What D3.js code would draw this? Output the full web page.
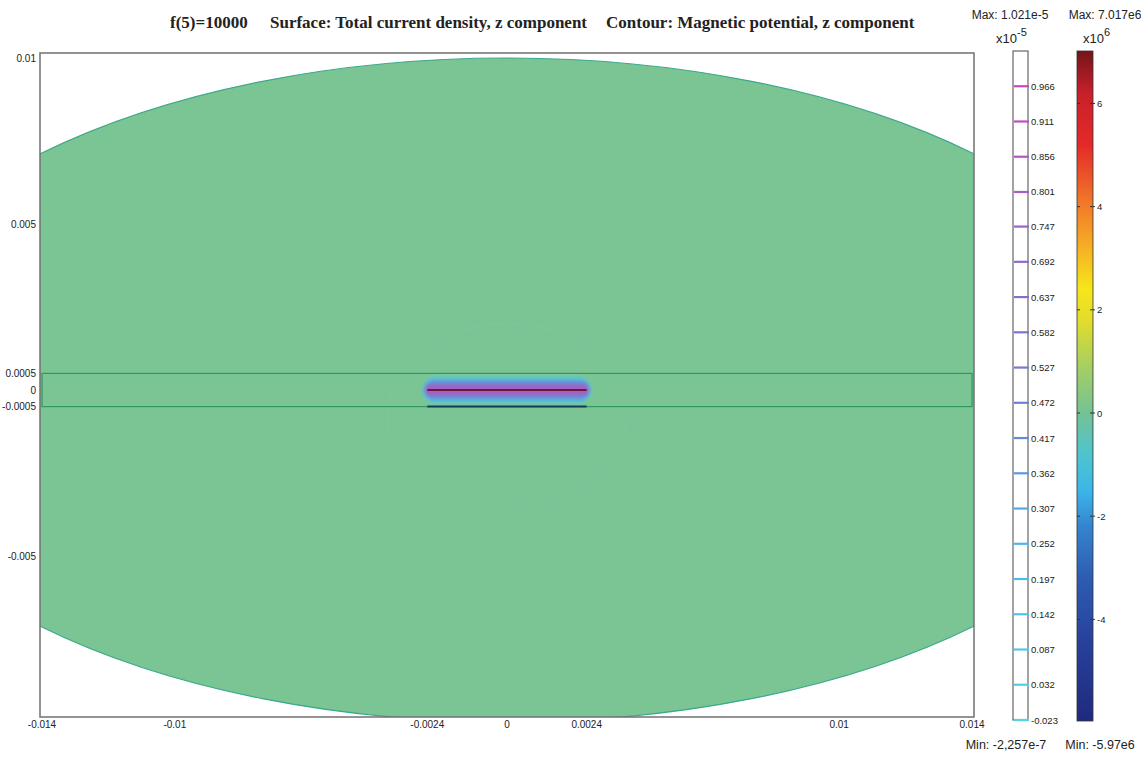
<!DOCTYPE html>
<html><head><meta charset="utf-8">
<script src="https://cdn.jsdelivr.net/npm/d3@7"></script>
<style>
html,body{margin:0;padding:0;background:#fff;}
svg{display:block;}
</style></head>
<body>
<svg id="chart" width="1141" height="758"></svg>
<script>
// ---------------- data ----------------
const titleParts = ["f(5)=10000", "Surface: Total current density, z component", "Contour: Magnetic potential, z component"];
const xTicks = [-0.014, -0.01, -0.0024, 0, 0.0024, 0.01, 0.014];
const xTickLabels = ["-0.014", "-0.01", "-0.0024", "0", "0.0024", "0.01", "0.014"];
const yTicks = [0.01, 0.005, 0.0005, 0, -0.0005, -0.005];
const yTickLabels = ["0.01", "0.005", "0.0005", "0", "-0.0005", "-0.005"];
// geometry (m)
const airEllipse = {rx: 0.02, ry: 0.01};
const substrate = {x0: -0.014, x1: 0.014, y0: -0.0005, y1: 0.0005};
const conductor = {x0: -0.0024, x1: 0.0024, y: 0, yBottom: -0.0005};
// contour levels (x1e-5)
const contourLevels = [0.966, 0.911, 0.856, 0.801, 0.747, 0.692, 0.637, 0.582, 0.527, 0.472, 0.417, 0.362, 0.307, 0.252, 0.197, 0.142, 0.087, 0.032, -0.023];
const contourMin = -0.023, contourMax = 1.021;
// halo around conductor: level and half-thickness (m)
const haloLevels = [0.032, 0.142, 0.252, 0.362, 0.472, 0.582, 0.692, 0.801, 0.911];
const haloHalf   = [0.00042, 0.00038, 0.00034, 0.0003, 0.00026, 0.00022, 0.00018, 0.00014, 0.0001];
// faint outer contour
const faintContours = [{cx: 0, cy: -0.0008, rx: 0.0036, ry: 0.0028}];
// surface colour bar (x1e6)
const surfTicks = [6, 4, 2, 0, -2, -4];
const surfMin = -5.97, surfMax = 7.017;
const surfStops = [
  [-5.97, "#1f2a7e"], [-4.5, "#27409a"], [-3.2, "#2d5cb2"], [-2.2, "#3584d0"],
  [-1.5, "#3cb6e8"], [-0.8, "#4fc4cf"], [0, "#74c293"], [0.9, "#a6cf63"],
  [1.8, "#e2dd2a"], [2.4, "#f6e61a"], [3.2, "#f6b024"], [4.2, "#f0702a"],
  [5.2, "#e42a28"], [6.2, "#c8202a"], [7.017, "#741418"]
];
const maxLabels = ["Max: 1.021e-5", "Max: 7.017e6"];
const minLabels = ["Min: -2,257e-7", "Min: -5.97e6"];
const expLabels = [["x10", "-5"], ["x10", "6"]];

// ---------------- drawing ----------------
const svg = d3.select("#chart");
const frame = {l: 40, r: 974, t: 53, b: 717};
const x = d3.scaleLinear().domain([-0.014, 0.014]).range([42, 972]);
const y = d3.scaleLinear().domain([-0.01, 0.01]).range([722, 58]);
const sans = "Liberation Sans, Arial, sans-serif";

// title
const titleX = [170, 270, 606];
svg.selectAll("text.title").data(titleParts).join("text")
  .attr("class", "title").attr("x", (d, i) => titleX[i]).attr("y", 28)
  .attr("font-family", "Liberation Serif, Times New Roman, serif")
  .attr("font-weight", "bold").attr("font-size", 17).attr("fill", "#222")
  .text(d => d);

const defs = svg.append("defs");
defs.append("clipPath").attr("id", "fclip").append("rect")
  .attr("x", frame.l).attr("y", frame.t).attr("width", frame.r - frame.l).attr("height", frame.b - frame.t);
defs.append("filter").attr("id", "blur").append("feGaussianBlur").attr("stdDeviation", 1.8);

// plot area
const g = svg.append("g").attr("clip-path", "url(#fclip)");
const cx0 = x(0), cy0 = y(0);
g.append("ellipse").attr("cx", cx0).attr("cy", cy0)
  .attr("rx", x(airEllipse.rx) - x(0)).attr("ry", y(0) - y(airEllipse.ry))
  .attr("fill", "#7bc594").attr("stroke", "#3aa889").attr("stroke-width", 1.2);

// faint contours
g.selectAll("ellipse.faint").data(faintContours).join("ellipse")
  .attr("class", "faint").attr("cx", d => x(d.cx)).attr("cy", d => y(d.cy))
  .attr("rx", d => x(d.rx) - x(0)).attr("ry", d => y(0) - y(d.ry))
  .attr("fill", "none").attr("stroke", "#86c9b0").attr("stroke-width", 1).attr("opacity", 0.3);

// substrate rectangle
g.append("rect").attr("x", x(substrate.x0)).attr("y", y(substrate.y1))
  .attr("width", x(substrate.x1) - x(substrate.x0)).attr("height", y(substrate.y0) - y(substrate.y1))
  .attr("fill", "none").attr("stroke", "#2e9a5c").attr("stroke-width", 1.2);

// contour colour
const cColor = d3.scaleLinear()
  .domain([-0.023, 0.25, 0.45, 0.65, 0.85, 1.0])
  .range(["#54d2e6", "#52b4e6", "#6a82d8", "#8a6cc8", "#b058c0", "#c846b8"]);

// halo
const halo = g.append("g").attr("filter", "url(#blur)");
halo.selectAll("rect").data(haloLevels).join("rect")
  .attr("x", (d, i) => x(conductor.x0) - (x(haloHalf[i]) - x(0)) * 0.35)
  .attr("width", (d, i) => x(conductor.x1) - x(conductor.x0) + 2 * (x(haloHalf[i]) - x(0)) * 0.35)
  .attr("y", (d, i) => y(conductor.y + haloHalf[i]))
  .attr("height", (d, i) => 2 * (x(haloHalf[i]) - x(0)))
  .attr("rx", (d, i) => (x(haloHalf[i]) - x(0)))
  .attr("fill", d => cColor(d)).attr("opacity", 0.5);

// conductor line and bottom electrode
g.append("line").attr("x1", x(conductor.x0)).attr("x2", x(conductor.x1))
  .attr("y1", y(conductor.y)).attr("y2", y(conductor.y))
  .attr("stroke", "#6a1840").attr("stroke-width", 2);
g.append("line").attr("x1", x(conductor.x0)).attr("x2", x(conductor.x1))
  .attr("y1", y(conductor.yBottom)).attr("y2", y(conductor.yBottom))
  .attr("stroke", "#17395a").attr("stroke-width", 2);

// frame
svg.append("rect").attr("x", frame.l).attr("y", frame.t)
  .attr("width", frame.r - frame.l).attr("height", frame.b - frame.t)
  .attr("fill", "none").attr("stroke", "#707070").attr("stroke-width", 1.5);

// axis labels
svg.selectAll("text.xt").data(xTicks).join("text").attr("class", "xt")
  .attr("x", d => x(d)).attr("y", 728).attr("text-anchor", "middle")
  .attr("font-family", sans).attr("font-size", 10).attr("fill", "#222")
  .text((d, i) => xTickLabels[i]);
svg.selectAll("text.yt").data(yTicks).join("text").attr("class", "yt")
  .attr("x", 36).attr("y", d => y(d) + 3.5).attr("text-anchor", "end")
  .attr("font-family", sans).attr("font-size", 10).attr("fill", "#222")
  .text((d, i) => yTickLabels[i]);

// contour legend bar
const cb = {x0: 1013, x1: 1028};
const cy = d3.scaleLinear().domain([contourMin, contourMax]).range([720, 51]);
svg.append("rect").attr("x", cb.x0).attr("y", cy(contourMax)).attr("width", cb.x1 - cb.x0)
  .attr("height", cy(contourMin) - cy(contourMax)).attr("fill", "#fff")
  .attr("stroke", "#666").attr("stroke-width", 1.2);
svg.selectAll("line.cl").data(contourLevels).join("line").attr("class", "cl")
  .attr("x1", cb.x0 + 1).attr("x2", cb.x1 + 1).attr("y1", d => cy(d)).attr("y2", d => cy(d))
  .attr("stroke", d => cColor(d)).attr("stroke-width", 2.2);
svg.selectAll("text.cl").data(contourLevels).join("text").attr("class", "cl")
  .attr("x", cb.x1 + 3).attr("y", d => cy(d) + 3.5)
  .attr("font-family", sans).attr("font-size", 9.5).attr("fill", "#222")
  .text(d => d.toFixed(3));

// surface colour bar
const sb = {x0: 1077, x1: 1093};
const sy = d3.scaleLinear().domain([surfMin, surfMax]).range([721, 51]);
const grad = defs.append("linearGradient").attr("id", "sgrad")
  .attr("x1", 0).attr("y1", 1).attr("x2", 0).attr("y2", 0);
grad.selectAll("stop").data(surfStops).join("stop")
  .attr("offset", d => (d[0] - surfMin) / (surfMax - surfMin))
  .attr("stop-color", d => d[1]);
svg.append("rect").attr("x", sb.x0).attr("y", sy(surfMax)).attr("width", sb.x1 - sb.x0)
  .attr("height", sy(surfMin) - sy(surfMax)).attr("fill", "url(#sgrad)")
  .attr("stroke", "#333").attr("stroke-width", 0.8);
const st = svg.selectAll("g.st").data(surfTicks).join("g").attr("class", "st")
  .attr("transform", d => `translate(0,${sy(d)})`);
st.append("line").attr("x1", sb.x0).attr("x2", sb.x0 + 3).attr("stroke", "#333");
st.append("line").attr("x1", sb.x1 - 3).attr("x2", sb.x1 + 2).attr("stroke", "#333");
st.append("text").attr("x", sb.x1 + 4).attr("y", 3.5)
  .attr("font-family", sans).attr("font-size", 9.5).attr("fill", "#222").text(d => d);

// max / min / exponent labels
const lblX = [1010, 1105];
svg.selectAll("text.mx").data(maxLabels).join("text").attr("class", "mx")
  .attr("x", (d, i) => lblX[i]).attr("y", 19).attr("text-anchor", "middle")
  .attr("font-family", sans).attr("font-size", 12).attr("fill", "#222").text(d => d);
const minX = [1006, 1100];
svg.selectAll("text.mn").data(minLabels).join("text").attr("class", "mn")
  .attr("x", (d, i) => minX[i]).attr("y", 749).attr("text-anchor", "middle")
  .attr("font-family", sans).attr("font-size", 12.5).attr("fill", "#222").text(d => d);
const expX = [996, 1083];
expLabels.forEach((e, i) => {
  const t = svg.append("text").attr("x", expX[i]).attr("y", 43)
    .attr("font-family", sans).attr("font-size", 13).attr("fill", "#222");
  t.append("tspan").text(e[0]);
  t.append("tspan").attr("dy", -7).attr("font-size", 11).text(e[1]);
});
</script>
</body></html>
